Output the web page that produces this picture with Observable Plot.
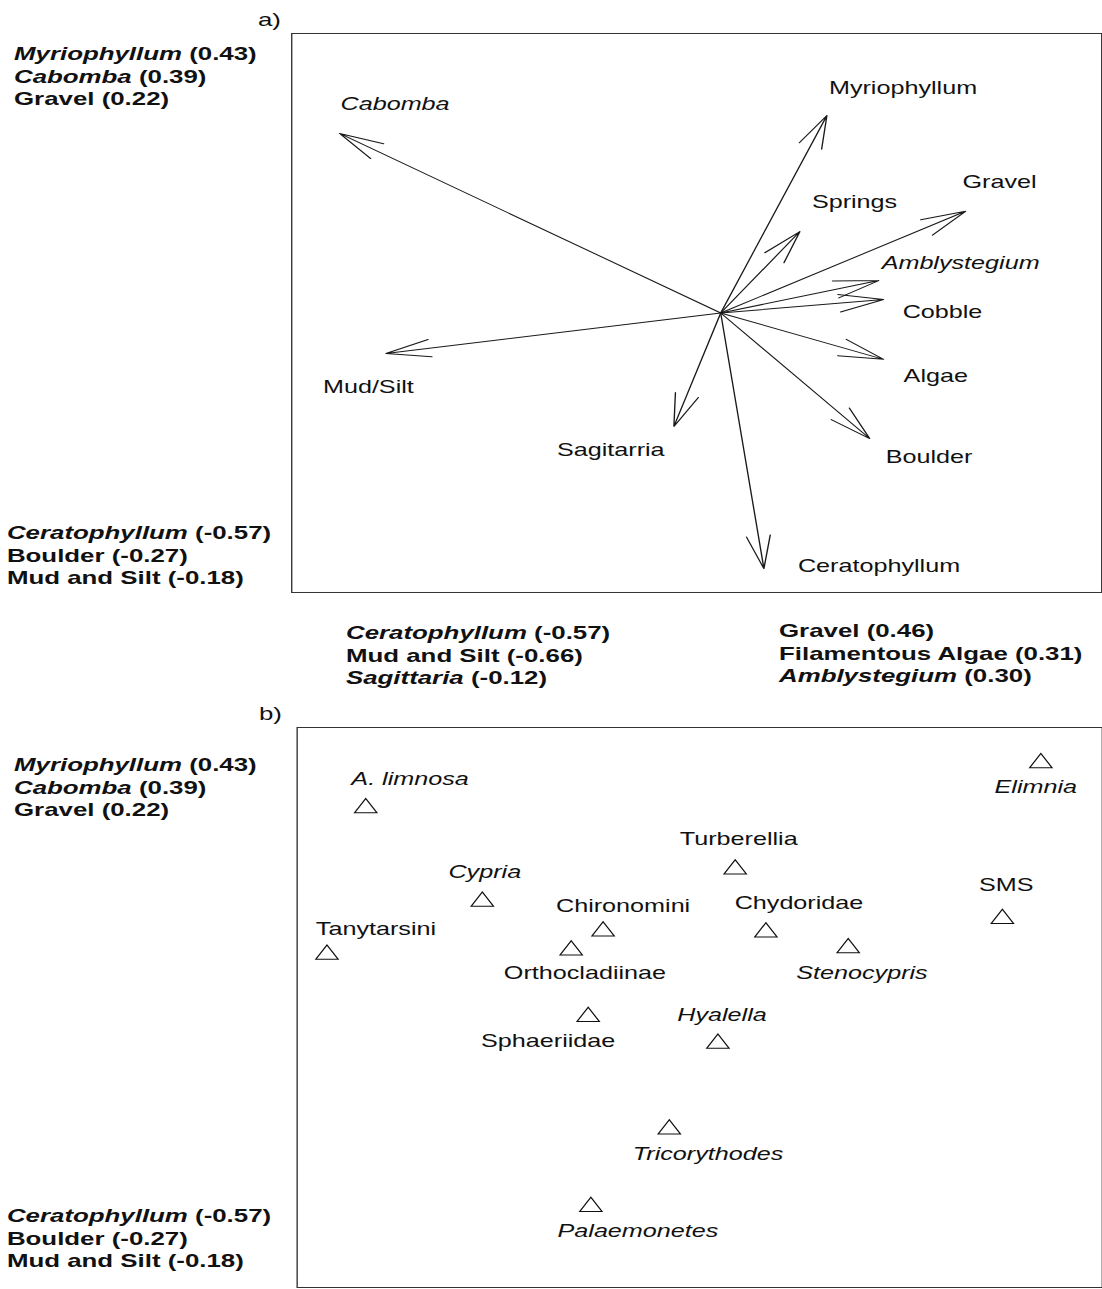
<!DOCTYPE html>
<html>
<head>
<meta charset="utf-8">
<script src="https://cdn.jsdelivr.net/npm/d3@7"></script>
<script src="https://cdn.jsdelivr.net/npm/@observablehq/plot@0.6"></script>
<style>
  body { margin: 0; background: #fff; }
  #page {
    position: relative; width: 810.3px; height: 1289px;
    transform: scaleX(1.36); transform-origin: 0 0;
    font-family: "Liberation Sans", Arial, sans-serif; color: #111;
  }
  .block { position: absolute; font-size: 19px; font-weight: bold; line-height: 22.6px; white-space: nowrap; }
  .tag { position: absolute; font-size: 19px; line-height: 22px; white-space: nowrap; }
  .panel { position: absolute; }
</style>
</head>
<body>
<div id="page"></div>
<script>
// ---- Panel a: environmental variable vectors (CCA axis 1 / axis 2) ----
const envNames  = ["Cabomba", "Myriophyllum", "Springs", "Gravel", "Amblystegium", "Cobble", "Algae", "Boulder", "Ceratophyllum", "Sagitarria", "Mud/Silt"];
const envAxis1  = [-0.847, 0.236, 0.176, 0.544, 0.351, 0.362, 0.362, 0.331, 0.096, -0.104, -0.744];
const envAxis2  = [0.399, 0.439, 0.181, 0.226, 0.072, 0.030, -0.103, -0.279, -0.568, -0.252, -0.090];
const envItalic = ["Cabomba", "Amblystegium"];

// ---- Panel b: taxa scores ----
const taxaNames  = ["A. limnosa", "Cypria", "Chironomini", "Orthocladiinae", "Tanytarsini", "Turberellia", "Chydoridae", "Stenocypris", "SMS", "Elimnia", "Sphaeriidae", "Hyalella", "Tricorythodes", "Palaemonetes"];
const taxaAxis1  = [-1.120, -0.729, -0.324, -0.431, -1.250, 0.119, 0.222, 0.498, 1.015, 1.144, -0.374, 0.061, -0.102, -0.365];
const taxaAxis2  = [0.670, 0.356, 0.256, 0.192, 0.178, 0.464, 0.253, 0.200, 0.298, 0.821, -0.031, -0.121, -0.409, -0.669];
const taxaItalic = ["A. limnosa", "Cypria", "Stenocypris", "Elimnia", "Hyalella", "Tricorythodes", "Palaemonetes"];

// ---- Axis correlations printed beside each panel ----
const corrAxis2Pos = [["Myriophyllum", true, "(0.43)"], ["Cabomba", true, "(0.39)"], ["Gravel", false, "(0.22)"]];
const corrAxis2Neg = [["Ceratophyllum", true, "(-0.57)"], ["Boulder", false, "(-0.27)"], ["Mud and Silt", false, "(-0.18)"]];
const corrAxis1Neg = [["Ceratophyllum", true, "(-0.57)"], ["Mud and Silt", false, "(-0.66)"], ["Sagittaria", true, "(-0.12)"]];
const corrAxis1Pos = [["Gravel", false, "(0.46)"], ["Filamentous Algae", false, "(0.31)"], ["Amblystegium", true, "(0.30)"]];

// ---- Layout: label offsets from each mark, in px [dx, dy] ----
const envLabelOffset = [[0.7, -29], [1.5, -27], [8.8, -29], [-2.2, -29], [2.2, -18], [14, 13], [14.7, 17], [11.8, 19], [25, -3], [-86, 24], [-46.3, 34]];
const taxaLabelOffset = [[32.6, -28.4], [1.8, -29.4], [14.7, -25.4], [10.1, 22.6], [36, -25.4], [2.6, -30.4], [24.3, -29.4], [10.1, 25.6], [2.9, -33.4], [-3.7, 24.6], [-29.4, 24.6], [3, -28.4], [28.5, 24.6], [34.6, 24.6]];

const page = document.getElementById("page");
const FONT = "'Liberation Sans', Arial, sans-serif";

function panel({left, top, width, height, xDomain, yDomain, marks}) {
  const m = 2;
  const svg = Plot.plot({
    width: width + 2 * m, height: height + 2 * m, margin: m,
    x: {domain: xDomain, axis: null},
    y: {domain: yDomain, axis: null},
    style: {background: "none", fontFamily: FONT, overflow: "visible", maxWidth: "none"},
    marks: [Plot.frame({stroke: "#333", strokeWidth: 1}), ...marks]
  });
  svg.classList.add("panel");
  svg.style.left = (left - m) + "px";
  svg.style.top = (top - m) + "px";
  page.append(svg);
}

// Convert a pixel offset into data units for a given panel size/domain
function withLabels(names, ax1, ax2, offsets, italics, width, height, xDomain, yDomain) {
  const kx = width / (xDomain[1] - xDomain[0]);
  const ky = height / (yDomain[1] - yDomain[0]);
  return names.map((name, i) => ({
    name, x: ax1[i], y: ax2[i],
    lx: ax1[i] + offsets[i][0] / kx,
    ly: ax2[i] - offsets[i][1] / ky,
    italic: italics.includes(name)
  }));
}

// Panel a
{
  const width = 595.6, height = 559;
  const xDomain = [-0.9533, 0.8467], yDomain = [-0.6211, 0.6211];
  const env = withLabels(envNames, envAxis1, envAxis2, envLabelOffset, envItalic, width, height, xDomain, yDomain);
  panel({
    left: 214, top: 33, width, height, xDomain, yDomain,
    marks: [
      Plot.arrow(env, {x1: () => 0, y1: () => 0, x2: "x", y2: "y", stroke: "#1a1a1a", strokeWidth: 1, headLength: 51, headAngle: 30}),
      Plot.text(env.filter(d => !d.italic), {x: "lx", y: "ly", text: "name", textAnchor: "start", fontSize: 18.5, fill: "#111"}),
      Plot.text(env.filter(d => d.italic), {x: "lx", y: "ly", text: "name", textAnchor: "start", fontSize: 18.5, fontStyle: "italic", fill: "#111"})
    ]
  });
}

// Panel b
{
  const width = 592, height = 560;
  const xDomain = [-1.35, 1.35], yDomain = [-0.94, 0.94];
  const taxa = withLabels(taxaNames, taxaAxis1, taxaAxis2, taxaLabelOffset, taxaItalic, width, height, xDomain, yDomain);
  panel({
    left: 217.6, top: 727, width, height, xDomain, yDomain,
    marks: [
      Plot.dot(taxa, {x: "x", y: "y", symbol: "triangle", r: 6.1, stroke: "#111", strokeWidth: 1, fill: "none"}),
      Plot.text(taxa.filter(d => !d.italic), {x: "lx", y: "ly", text: "name", textAnchor: "middle", fontSize: 18.5, fill: "#111"}),
      Plot.text(taxa.filter(d => d.italic), {x: "lx", y: "ly", text: "name", textAnchor: "middle", fontSize: 18.5, fontStyle: "italic", fill: "#111"})
    ]
  });
}

// Correlation blocks and panel tags
function block(rows, left, top) {
  const div = document.createElement("div");
  div.className = "block";
  div.style.left = left + "px";
  div.style.top = top + "px";
  rows.forEach(([name, italic, value]) => {
    const line = document.createElement("div");
    const n = document.createElement("span");
    n.textContent = name;
    if (italic) n.style.fontStyle = "italic";
    line.append(n, " " + value);
    div.append(line);
  });
  page.append(div);
}
function tag(text, left, top) {
  const div = document.createElement("div");
  div.className = "tag";
  div.textContent = text;
  div.style.left = left + "px";
  div.style.top = top + "px";
  page.append(div);
}

tag("a)", 189.7, 9);
block(corrAxis2Pos, 10.3, 43);
block(corrAxis2Neg, 5.1, 522);
block(corrAxis1Neg, 254.4, 622);
block(corrAxis1Pos, 572.8, 620);

tag("b)", 190.4, 703);
block(corrAxis2Pos, 10.3, 754);
block(corrAxis2Neg, 5.1, 1205);
</script>
</body>
</html>
